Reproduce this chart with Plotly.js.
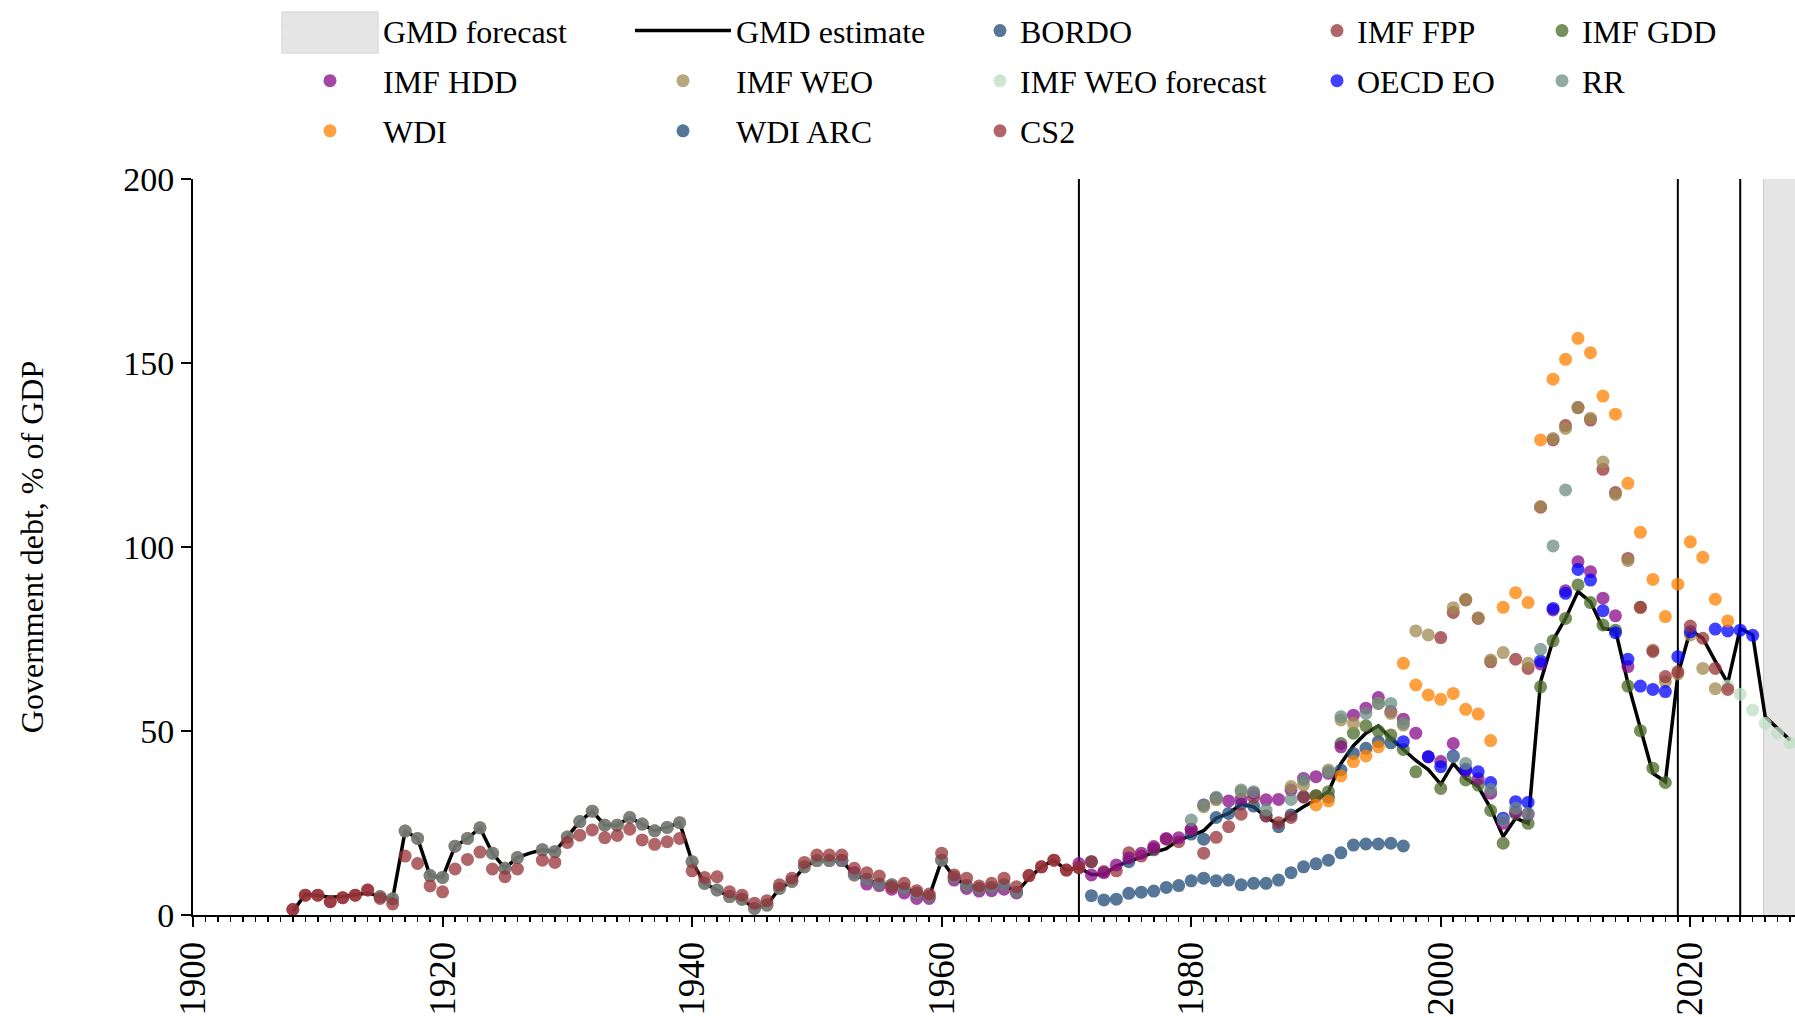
<!DOCTYPE html>
<html><head><meta charset="utf-8">
<script src="https://cdn.plot.ly/plotly-3.0.1.min.js"></script>
<style>html,body{margin:0;padding:0;background:#fff;} #chart{width:1795px;height:1017px;}</style>
</head><body><div id="chart"></div>
<script>
// ---------------- DATA ----------------
const xAxisStart = 1900, xAxisEnd = 2028.39;
const forecastStart = 2025.87;          // GMD forecast region start
const markerYears = [1971, 2019, 2024]; // vertical reference lines

const gmdStart = 1908;
const gmdEstimate = [
  1.0, 5.6, 5.3, 4.8, 5.0, 5.6, 6.0, 5.0, 4.4, 22.8,
  20.8, 10.7, 10.2, 18.7, 20.8, 23.7, 16.8, 12.7, 15.6, 16.8,
  17.7, 17.2, 21.2, 25.4, 28.2, 24.4, 24.4, 26.5, 24.7, 22.9,
  23.8, 25.1, 14.5, 8.6, 6.8, 5.0, 4.3, 1.8, 2.7, 7.2,
  9.1, 13.1, 14.8, 14.8, 14.8, 10.9, 9.7, 8.4, 8.2, 7.2,
  5.9, 5.0, 14.9, 10.2, 8.0, 7.5, 7.5, 8.2, 6.2, 10.0,
  13.1, 14.9, 12.2, 12.9, 11.0, 11.0, 13.3, 14.5, 15.9, 17.0,
  18.0, 20.4, 21.5, 22.9, 26.3, 27.6, 30.1, 29.4, 26.7, 24.5,
  27.2, 29.4, 31.3, 33.5, 41.2, 46.0, 49.4, 51.4, 48.0, 45.0,
  42.0, 39.5, 35.5, 41.2, 37.1, 34.9, 29.0, 21.3, 26.3, 24.9,
  63.4, 74.7, 80.6, 87.9, 85.1, 77.9, 77.4, 63.0, 50.3, 38.5,
  36.2, 65.2, 77.4, 75.2, 69.0, 63.0, 77.9, 76.1, 53.9, 50.8,
  47.5
];

const bordoStart = 1972;
const bordoValues = [
  14.5, null, null, 14.5, null, 17.7, null, null, 22.0, 20.6,
  26.5, 27.6, 30.1, 29.6, 26.9, 24.0, 27.2, 32.2, null, 32.0,
  39.4, 43.9, 45.3, 47.1, 46.8
];

const rrEarlyStart = 1915;
const rrEarly = [
  5.0, 4.4, 22.8, 20.8, 10.7, 10.2, 18.7, 20.8, 23.7, 16.8,
  12.7, 15.6, null, 17.7, 17.2, 21.2, 25.4, 28.2, 24.4, 24.4,
  26.5, 24.7, 22.9, 23.8, 25.1, 14.5, 8.6, 6.8, 5.0, 4.3,
  1.8, 2.7, 7.2, 9.1, 13.1, 14.8, 14.8, 14.8, 10.9, 9.7,
  8.4, 8.2, 7.2, 5.9, 5.0, 14.9, 10.2, 8.0, 7.2, 7.5,
  8.2, 6.2
];
const rrLateStart = 1980;
const rrLate = [
  25.8, 29.9, 32.0, null, 34.0, 33.5, 28.5, null, 31.4, 36.7,
  null, 38.9, 53.9, null, 54.8, 57.5, 57.5, 52.1, null, null,
  null, 43.0, 41.2, null, 34.1, 25.8, 29.0, 27.6, 72.2, 100.3,
  115.5
];

const hddEarlyStart = 1952;
const hddEarly = [14.8, 11.5, 8.4, 8.0, 7.0, 6.0, 4.5, 4.5, null, 9.5, 7.2, 6.5, 6.6, 7.0, 6.0];
const hddLateStart = 1971;
const hddLate = [
  14.0, 10.9, 11.5, 13.6, 15.5, 16.8, 18.6, 20.8, 21.0, 23.3,
  29.9, 31.7, 31.0, 31.5, 33.1, 31.3, 31.4, 34.0, 37.1, 37.6,
  38.5, 45.7, 54.3, 56.2, 59.1, 55.3, 53.2, 49.4, 43.0, 41.7,
  46.6, 39.2, 37.0, 33.1, 24.9, 28.0, 27.4, 68.2, 82.9, 88.1,
  96.0, 93.3, 86.1, 81.3, 67.5
];

const gddStart = 1990;
const gddValues = [
  32.5, 33.5, 46.6, 49.4, 51.4, 50.0, 48.9, 45.0, 38.9, null,
  34.4, null, 36.7, 35.3, 28.4, 19.5, 27.6, 24.9, 62.0, 74.5,
  80.6, 89.7, 84.9, 78.8, 77.4, 62.2, 50.1, 39.9, 36.0
];

const oecdStart = 1997;
const oecdValues = [
  47.1, null, 43.0, 40.3, 43.2, 39.6, 38.9, 36.0, 26.3, 30.8,
  30.6, 69.0, 83.3, 87.4, 93.9, 91.0, 82.7, 76.7, 69.5, 62.2,
  61.3, 60.7, 70.2, 77.0, null, 77.7, 77.2, 77.4, 76.0
];

const weoStart = 1981;
const weoValues = [
  29.4, 31.3, null, 33.5, null, null, null, 34.9, 35.3, null,
  39.4, 53.0, 52.1, null, 57.5, 54.8, 51.6, 77.2, 76.1, null,
  83.5, 85.8, 80.8, 69.3, 71.3, null, 68.4, 111.0, 129.5, 132.2,
  137.9, 135.0, 123.1, 114.3, 96.3, 83.6, 72.0, 63.4, 65.5, 76.1,
  67.0, 61.5
];

const weoForecastStart = 2023;
const weoForecast = [62.2, 60.0, 55.7, 52.1, 49.4, 46.8];

const fppEarlyStart = 1908;
const fppEarly = [
  1.5, 5.4, 5.4, 3.6, 4.7, 5.4, 6.8, 5.0, 4.4, 22.8,
  20.8, 10.7, 10.2, 18.7, 20.8, 23.7, 16.8, 12.7, 15.6, null,
  17.7, 17.2, 21.2, 25.4, 28.2, 24.4, 24.4, 26.5, 24.7, 22.9,
  23.8, 25.1, 14.5, 8.6, 6.8, 5.0, 4.3, 1.8, 2.7, 7.2,
  9.1, 13.1, 14.8, 14.8, 14.8, 10.9, 9.7, 8.4, 8.2, 7.2,
  5.9, 5.0, 14.9, 10.2, 8.0, 7.2, 7.5, 8.2, 6.2, 10.7,
  13.1, 14.9, 12.2, 12.9
];
const fppLateStart = 1972;
const fppLate = [
  14.5, 11.8, 12.0, 16.9, 16.0, 18.1, 20.6, 19.9, 23.3, 16.8,
  21.1, 24.0, 27.4, 32.0, 26.9, 25.1, 26.5, 32.0, 32.3, null,
  null, null, null, null, null, null, null, null, 75.4, 82.2,
  85.6, 80.6, 68.8, null, 69.5, 67.0, 110.8, 129.1, 133.0, 137.9,
  134.5, 121.1, 114.8, 96.9
];

const cs2EarlyStart = 1908;
const cs2Early = [
  1.5, 5.4, 5.4, 3.6, 4.7, 5.4, 6.8, 4.5, 3.0, 16.0,
  14.0, 7.9, 6.3, 12.5, 15.1, 17.1, 12.5, 10.4, 12.5, null,
  14.9, 14.3, 19.7, 21.7, 23.1, 21.0, 21.6, 23.3, 20.4, 19.2,
  19.9, 20.8, 12.0, 10.2, 10.4, 6.3, 5.4, 3.2, 3.9, 8.2,
  10.0, 14.3, 16.3, 16.3, 16.3, 12.7, 11.5, 10.6, 7.7, 8.6,
  6.6, 5.7, 16.8, 10.9, 10.0, 7.9, 8.6, 10.0, 7.7, 10.7,
  13.1, 14.9, 12.2, 12.9
];
const cs2LateStart = 2016;
const cs2Late = [83.6, 71.6, 64.8, 66.1, 78.5, 75.2, 67.0, 61.3];

const wdiStart = 1990;
const wdiValues = [
  29.9, 31.0, 37.8, 41.7, 43.2, 45.7, null, 68.4, 62.5, 59.8,
  58.6, 60.2, 55.9, 54.6, 47.4, 83.6, 87.6, 84.9, 129.1, 145.6,
  151.0, 156.7, 152.8, 141.0, 136.1, 117.3, 104.0, 91.2, 81.1, 89.9,
  101.4, 97.2, 85.8, 79.9
];

const wdiArcStart = 1972;
const wdiArcValues = [
  5.25, 4.1, 4.3, 5.9, 6.2, 6.5, 7.5, 8.0, 9.3, 10.0,
  9.3, 9.5, 8.2, 8.6, 8.6, 9.5, 11.5, 13.1, 13.9, 14.9,
  16.9, 19.0, 19.3, 19.3, 19.5, 18.75
];

// ---------------- helpers ----------------
function seg(start, vals) {
  const x = [], y = [];
  vals.forEach((v, i) => { x.push(start + i); y.push(v); });
  return {x, y};
}
function join(a, b) { return {x: a.x.concat([null], b.x), y: a.y.concat([null], b.y)}; }

const FONT = 'Liberation Serif, Times New Roman, serif';
const ALPHA = 0.75;
const COLORS = {
  BORDO: '#1f4a77', FPP: '#963237', GDD: '#4a6a26', HDD: '#870a87',
  WEO: '#a08a50', WEOF: '#bcdfc4', OECD: '#0000ff', RR: '#6b8c82',
  WDI: '#ff8000', WDIARC: '#1f4a77', CS2: '#963237'
};

function dots(name, d, color, legend, rank) {
  return {
    type: 'scatter', mode: 'markers', name: name, x: d.x, y: d.y,
    marker: {size: 13, color: color, opacity: ALPHA, line: {width: 0}},
    legend: legend, legendgroup: name, legendrank: rank,
    hoverinfo: 'x+y+name', cliponaxis: true
  };
}

const gmd = seg(gmdStart, gmdEstimate);
const traces = [
  { type: 'scatter', mode: 'lines', name: 'GMD forecast',
    x: [forecastStart, xAxisEnd, xAxisEnd, forecastStart, forecastStart],
    y: [0, 0, 200, 200, 0], fill: 'toself', fillcolor: '#e5e5e5',
    line: {width: 0, color: '#e5e5e5'}, hoverinfo: 'skip',
    legend: 'legend', legendgroup: 'GMD forecast', legendrank: 1 },
  { type: 'scatter', mode: 'lines', name: 'GMD estimate', x: gmd.x, y: gmd.y,
    line: {color: '#000', width: 3.5}, legend: 'legend2', legendgroup: 'GMD estimate', legendrank: 2 },
  dots('BORDO', seg(bordoStart, bordoValues), COLORS.BORDO, 'legend3', 3),
  dots('IMF FPP', join(seg(fppEarlyStart, fppEarly), seg(fppLateStart, fppLate)), COLORS.FPP, 'legend4', 4),
  dots('IMF GDD', seg(gddStart, gddValues), COLORS.GDD, 'legend5', 5),
  dots('IMF HDD', join(seg(hddEarlyStart, hddEarly), seg(hddLateStart, hddLate)), COLORS.HDD, 'legend', 6),
  dots('IMF WEO', seg(weoStart, weoValues), COLORS.WEO, 'legend2', 7),
  dots('IMF WEO forecast', seg(weoForecastStart, weoForecast), COLORS.WEOF, 'legend3', 8),
  dots('OECD EO', seg(oecdStart, oecdValues), COLORS.OECD, 'legend4', 9),
  dots('RR', join(seg(rrEarlyStart, rrEarly), seg(rrLateStart, rrLate)), COLORS.RR, 'legend5', 10),
  dots('WDI', seg(wdiStart, wdiValues), COLORS.WDI, 'legend', 11),
  dots('WDI ARC', seg(wdiArcStart, wdiArcValues), COLORS.WDIARC, 'legend2', 12),
  dots('CS2', join(seg(cs2EarlyStart, cs2Early), seg(cs2LateStart, cs2Late)), COLORS.CS2, 'legend3', 13)
];

const legendTop = 1.2387;
function leg(x, iw) {
  return { x: x, y: legendTop, xanchor: 'left', yanchor: 'top', orientation: 'v',
    itemwidth: iw, traceorder: 'grouped', tracegroupgap: 5.5,
    font: {family: FONT, size: 32, color: '#000'},
    bgcolor: 'rgba(0,0,0,0)', borderwidth: 0, itemclick: false, itemdoubleclick: false };
}
// paper coordinates: x -> (px-193)/1602, y -> (915-py)/736
const shapes = markerYears.map(yr => ({
  type: 'line', xref: 'x', yref: 'paper', x0: yr, x1: yr, y0: 0, y1: 1,
  line: {color: '#000', width: 2}, layer: 'below'
}));
shapes.push({ type: 'line', xref: 'x', yref: 'paper', x0: forecastStart, x1: forecastStart, y0: 0, y1: 1,
  line: {color: '#b5b5b5', width: 1}, layer: 'below' });
// legend swatch for the "GMD forecast" shaded area
shapes.push({ type: 'rect', xref: 'paper', yref: 'paper',
  x0: (282 - 193) / 1602, x1: (378 - 193) / 1602, y0: (915 - 53) / 736, y1: (915 - 12) / 736,
  fillcolor: '#e5e5e5', line: {color: '#dcdcdc', width: 1.5}, layer: 'above' });

const layout = {
  width: 1795, height: 1017,
  margin: {l: 193, r: 0, t: 179, b: 102, pad: 0},
  paper_bgcolor: '#fff', plot_bgcolor: '#fff',
  font: {family: FONT, size: 32, color: '#000'},
  showlegend: true,
  legend: leg((277 - 193) / 1602, 96), legend2: leg((630 - 193) / 1602, 96),
  legend3: leg((980 - 193) / 1602, 30), legend4: leg((1317 - 193) / 1602, 30),
  legend5: leg((1542 - 193) / 1602, 30),
  xaxis: {
    range: [xAxisStart, xAxisEnd], tickmode: 'linear', tick0: 1900, dtick: 20,
    ticks: 'outside', ticklen: 10, tickwidth: 2, tickcolor: '#000',
    showline: true, linecolor: '#000', linewidth: 2, tickangle: -90,
    minor: {dtick: 1, ticks: 'outside', ticklen: 5, tickwidth: 1.5, tickcolor: '#000', showgrid: false},
    showgrid: false, zeroline: false, tickfont: {family: FONT, size: 37, color: '#000'}
  },
  yaxis: {
    range: [0, 200], tickmode: 'linear', tick0: 0, dtick: 50,
    ticks: 'outside', ticklen: 10, tickwidth: 2, tickcolor: '#000',
    showline: true, linecolor: '#000', linewidth: 2,
    showgrid: false, zeroline: false, tickfont: {family: FONT, size: 34, color: '#000'},
    title: {text: 'Government debt, % of GDP', font: {family: FONT, size: 32, color: '#000'}, standoff: 70}
  },
  shapes: shapes
};

Plotly.newPlot('chart', traces, layout, {staticPlot: true, displayModeBar: false});
</script></body></html>
